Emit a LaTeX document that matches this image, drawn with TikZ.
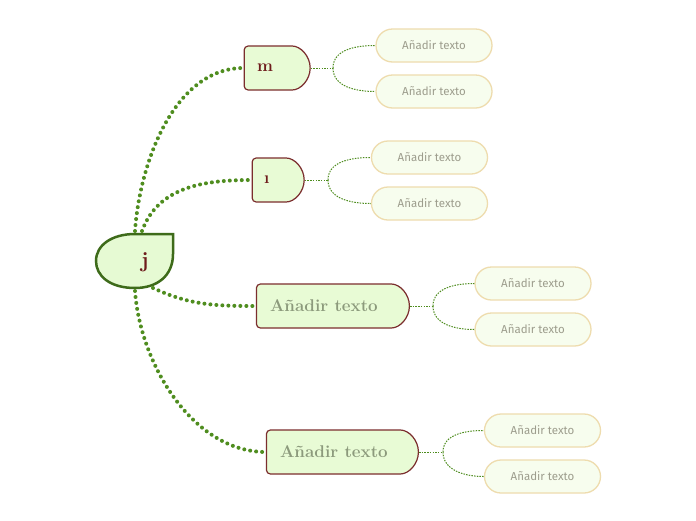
\documentclass[tikz,border=0pt]{standalone}
\usepackage{fontspec}
\usepackage{tikz}
\usetikzlibrary{shapes.misc}
\newfontfamily\subfont{Fira Sans}
\definecolor{topicred}{HTML}{7B2E2E}
\definecolor{topicfill}{HTML}{E8FBD5}
\definecolor{roottext}{HTML}{6E1C1C}
\definecolor{maintext}{HTML}{8C9A7C}
\definecolor{linkgreen}{HTML}{4F8D1F}
\definecolor{rootline}{HTML}{3E6B1A}
\definecolor{rootfill}{HTML}{E6FAD3}
\definecolor{subline}{HTML}{EEDCAE}
\definecolor{subfill}{HTML}{F7FDEE}
\definecolor{subtext}{HTML}{9D9D8D}
\newcommand{\leftText}[2]{\makebox[#1][l]{#2}}

\begin{document}
\begin{tikzpicture}[x=1pt, y=-1pt]
  \tikzset{mainbox/.style={rounded rectangle, rounded rectangle west arc=none, rounded corners=4pt,
      draw=topicred, fill=topicfill, line width=1.2pt, minimum height=44pt,
      inner sep=0pt, font=\fontsize{17}{19}\selectfont\bfseries},
    subbox/.style={rounded rectangle, draw=subline, fill=subfill, line width=1.3pt,
      minimum width=116pt, minimum height=33pt, inner sep=0pt,
      font=\subfont\fontsize{11.5}{13}\selectfont, text=subtext},
    mainlink/.style={draw=linkgreen, line width=4pt, line cap=round, dash pattern=on 0pt off 6pt},
    sublink/.style={draw=linkgreen, line width=1pt, dash pattern=on 1.5pt off 1.2pt}}
  \useasboundingbox[fill=white] (0,0) rectangle (696,520);
  % central leaf
  \draw[rootline, fill=rootfill, line width=2.5pt] (173,234) -- (173,254)
    .. controls (173,276) and (157,288) .. (135,288)
    .. controls (110,288) and (96,276) .. (96,261)
    .. controls (96,245) and (112,234) .. (135,234) -- cycle;
  \node[text=roottext, font=\fontsize{22}{24}\selectfont\bfseries] (root) at (145,262) {j};
  \coordinate (root-n) at (135,231);
  \coordinate (root-ne) at (142,231);
  \coordinate (root-se) at (153,288);
  \coordinate (root-s) at (135,291);
  % main topics
  \node[mainbox, minimum width=66pt, text=roottext] (m) at (277,68) {\leftText{40pt}{m}};
  \node[mainbox, minimum width=52pt, text=roottext] (i) at (278,180) {\leftText{28pt}{ı}};
  \node[mainbox, minimum width=153pt, text=maintext] (t3) at (332.5,306) {\leftText{125pt}{Añadir texto}};
  \node[mainbox, minimum width=152pt, text=maintext] (t4) at (342,452) {\leftText{124pt}{Añadir texto}};
  % subtopics
  \node[subbox] (s-1-1) at (434,45.5) {Añadir texto};
  \node[subbox] (s-1-2) at (434,91.5) {Añadir texto};
  \node[subbox] (s-2-1) at (429.5,157.5) {Añadir texto};
  \node[subbox] (s-2-2) at (429.5,203.5) {Añadir texto};
  \node[subbox] (s-3-1) at (533,283.5) {Añadir texto};
  \node[subbox] (s-3-2) at (533,329.5) {Añadir texto};
  \node[subbox] (s-4-1) at (542.5,430.5) {Añadir texto};
  \node[subbox] (s-4-2) at (542.5,476.5) {Añadir texto};
  \coordinate (b-1) at (333,68);
  \coordinate (b-2) at (328,180);
  \coordinate (b-3) at (433,306);
  \coordinate (b-4) at (443,452);
  % links
  \draw[mainlink] (root-n) to[out=86, in=180, looseness=0.9] (m.west);
  \draw[mainlink] (root-ne) to[out=70, in=180] (i.west);
  \draw[mainlink] (root-se) to[out=-25, in=180] (t3.west);
  \draw[mainlink] (root-s) to[out=-86, in=180, looseness=0.9] (t4.west);
  \foreach \t/\k in {m/1, i/2, t3/3, t4/4} {
    \draw[sublink] (\t.east) -- (b-\k);
    \draw[sublink] (b-\k) to[out=90, in=180] (s-\k-1.west);
    \draw[sublink] (b-\k) to[out=-90, in=180] (s-\k-2.west);
  }
\end{tikzpicture}
\end{document}
